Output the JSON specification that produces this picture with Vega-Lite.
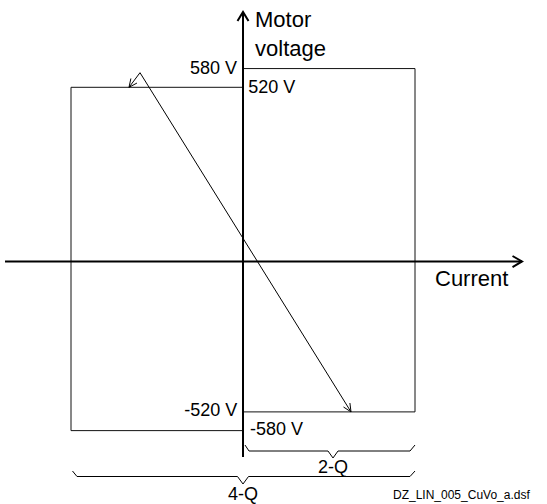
{
  "$schema": "https://vega.github.io/schema/vega-lite/v6.json",
  "width": 547,
  "height": 504,
  "padding": 0,
  "autosize": {"type": "none"},
  "background": "white",
  "config": {"view": {"stroke": null}, "font": "Liberation Sans"},
  "datasets": {
    "rects": [
      {"I": 0, "I2": 1, "V": -520, "V2": 580},
      {"I": -1, "I2": 0, "V": -580, "V2": 520}
    ],
    "axes": [
      {"path": "hAxis", "seq": 1, "I": -1.3837, "V": -38.1},
      {"path": "hAxis", "seq": 2, "I": 1.6221, "V": -38.1},
      {"path": "vAxis", "seq": 1, "I": 0, "V": -664.5},
      {"path": "vAxis", "seq": 2, "I": 0, "V": 761.3},
      {"path": "hHead", "seq": 1, "I": 1.5669, "V": -20.5},
      {"path": "hHead", "seq": 2, "I": 1.6221, "V": -38.1},
      {"path": "hHead", "seq": 3, "I": 1.5669, "V": -55.8},
      {"path": "vHead", "seq": 1, "I": -0.032, "V": 732.5},
      {"path": "vHead", "seq": 2, "I": 0, "V": 761.3},
      {"path": "vHead", "seq": 3, "I": 0.032, "V": 732.5}
    ],
    "strokes": [
      {"path": "diag", "seq": 1, "I": -0.6628, "V": 520},
      {"path": "diag", "seq": 2, "I": -0.5988, "V": 566.8},
      {"path": "diag", "seq": 3, "I": 0.6279, "V": -520},
      {"path": "headL", "seq": 1, "I": -0.6166, "V": 533.6},
      {"path": "headL", "seq": 2, "I": -0.6628, "V": 520},
      {"path": "headL", "seq": 3, "I": -0.6519, "V": 548.2},
      {"path": "headR", "seq": 1, "I": 0.6215, "V": -491.5},
      {"path": "headR", "seq": 2, "I": 0.6279, "V": -520},
      {"path": "headR", "seq": 3, "I": 0.5843, "V": -504.3},
      {"path": "brace2", "seq": 1, "I": 0.0116, "V": -626.1},
      {"path": "brace2", "seq": 2, "I": 0.0349, "V": -645.3},
      {"path": "brace2", "seq": 3, "I": 0.4942, "V": -645.3},
      {"path": "brace2", "seq": 4, "I": 0.5233, "V": -667.7},
      {"path": "brace2", "seq": 5, "I": 0.5523, "V": -645.3},
      {"path": "brace2", "seq": 6, "I": 0.9709, "V": -645.3},
      {"path": "brace2", "seq": 7, "I": 1.0, "V": -626.1},
      {"path": "brace4", "seq": 1, "I": -0.9913, "V": -709.4},
      {"path": "brace4", "seq": 2, "I": -0.9651, "V": -727.0},
      {"path": "brace4", "seq": 3, "I": -0.0320, "V": -727.0},
      {"path": "brace4", "seq": 4, "I": 0, "V": -751.0},
      {"path": "brace4", "seq": 5, "I": 0.0320, "V": -727.0},
      {"path": "brace4", "seq": 6, "I": 0.9709, "V": -727.0},
      {"path": "brace4", "seq": 7, "I": 1.0, "V": -709.4}
    ],
    "titles": [
      {"label": "Motor", "I": 0.0698, "V": 712.0},
      {"label": "voltage", "I": 0.0698, "V": 621.0},
      {"label": "Current", "I": 1.1162, "V": -118.0}
    ],
    "valuesLeft": [
      {"label": "520 V", "I": 0.0308, "V": 501.8},
      {"label": "-580 V", "I": 0.0407, "V": -595.6}
    ],
    "valuesRight": [
      {"label": "580 V", "I": -0.0349, "V": 562.6},
      {"label": "-520 V", "I": -0.0331, "V": -533.2}
    ],
    "braceLabels": [
      {"label": "2-Q", "I": 0.5233, "V": -715.8},
      {"label": "4-Q", "I": 0, "V": -802.3}
    ],
    "fileName": [
      {"label": "DZ_LIN_005_CuVo_a.dsf", "I": 0.8721, "V": -799.1}
    ]
  },
  "encoding": {
    "x": {"field": "I", "type": "quantitative", "axis": null, "scale": {"domain": [-1.4128, 1.7674], "nice": false, "zero": false}},
    "y": {"field": "V", "type": "quantitative", "axis": null, "scale": {"domain": [-815.1, 799.7], "nice": false, "zero": false}}
  },
  "layer": [
    {
      "data": {"name": "rects"},
      "mark": {"type": "rect", "fill": null, "fillOpacity": 0, "stroke": "#111", "strokeWidth": 1},
      "encoding": {"x2": {"field": "I2"}, "y2": {"field": "V2"}}
    },
    {
      "data": {"name": "strokes"},
      "mark": {"type": "line", "color": "#000", "strokeWidth": 1},
      "encoding": {"detail": {"field": "path"}, "order": {"field": "seq"}}
    },
    {
      "data": {"name": "axes"},
      "mark": {"type": "line", "color": "#000", "strokeWidth": 2},
      "encoding": {"detail": {"field": "path"}, "order": {"field": "seq"}}
    },
    {
      "data": {"name": "titles"},
      "mark": {"type": "text", "align": "left", "baseline": "alphabetic", "fontSize": 22, "color": "#000"},
      "encoding": {"text": {"field": "label"}}
    },
    {
      "data": {"name": "valuesLeft"},
      "mark": {"type": "text", "align": "left", "baseline": "alphabetic", "fontSize": 18, "color": "#000"},
      "encoding": {"text": {"field": "label"}}
    },
    {
      "data": {"name": "valuesRight"},
      "mark": {"type": "text", "align": "right", "baseline": "alphabetic", "fontSize": 18, "color": "#000"},
      "encoding": {"text": {"field": "label"}}
    },
    {
      "data": {"name": "braceLabels"},
      "mark": {"type": "text", "align": "center", "baseline": "alphabetic", "fontSize": 18, "color": "#000"},
      "encoding": {"text": {"field": "label"}}
    },
    {
      "data": {"name": "fileName"},
      "mark": {"type": "text", "align": "left", "baseline": "alphabetic", "fontSize": 12, "color": "#000"},
      "encoding": {"text": {"field": "label"}}
    }
  ]
}
